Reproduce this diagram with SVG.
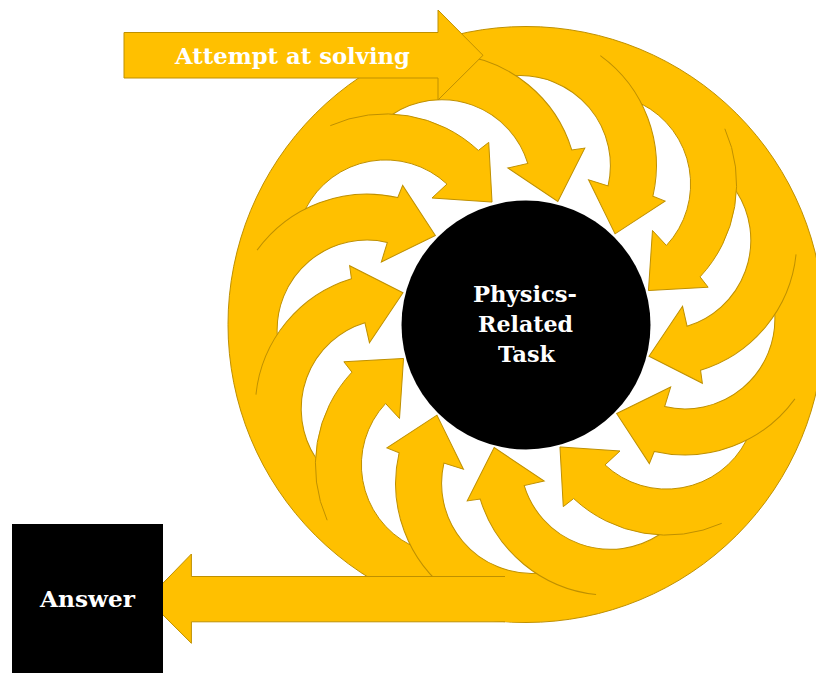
<svg xmlns="http://www.w3.org/2000/svg" width="816" height="673" viewBox="0 0 816 673">
<style>
.y{fill:#FFC000;stroke:none}
.e{fill:none;stroke:#BF9000;stroke-width:1;stroke-linejoin:miter}
.t{font-family:"DejaVu Serif","Liberation Serif",serif;font-weight:bold;fill:#FFFFFF;font-size:23px;text-anchor:middle}
</style>
<defs>
<path id="af" d="M 250.61 266.47 A 136 136 0 0 1 478.35 150.44 L 488.73 142.36 L 492.04 202.06 L 431.99 198.01 L 446.98 184.08 A 90 90 0 0 0 296.27 260.87 Z"/>
<path id="af1" d="M 294.6 148.83 A 136 136 0 0 1 478.35 150.44 L 488.73 142.36 L 492.04 202.06 L 431.99 198.01 L 446.98 184.08 A 90 90 0 0 0 325.38 183.02 Z"/>
<path id="ae" d="M 330.28 125.66 A 136 136 0 0 1 478.35 150.44 L 488.73 142.36 L 492.04 202.06 L 431.99 198.01 L 446.98 184.08 A 90 90 0 0 0 305.41 209.04"/>
</defs>
<rect width="816" height="673" fill="#FFFFFF"/>
<g id="ring">
<path class="y" fill-rule="evenodd" d="M 228 324.5 A 298 298 0 1 0 824 324.5 A 298 298 0 1 0 228 324.5 Z M 276 324.5 A 250 250 0 1 1 776 324.5 A 250 250 0 1 1 276 324.5 Z"/>
<path class="y" d="M 250.61 266.47 A 136 136 0 0 1 303.75 141.28 L 331.44 178.02 A 90 90 0 0 0 296.27 260.87 Z"/>
<circle class="e" cx="526" cy="324.5" r="298"/>
</g>
<g id="arrow-12" transform="rotate(330 526 324.5)"><use href="#af" class="y"/><use href="#ae" class="e"/></g>
<g id="arrow-11" transform="rotate(300 526 324.5)"><use href="#af" class="y"/><use href="#ae" class="e"/></g>
<g id="arrow-10" transform="rotate(270 526 324.5)"><use href="#af" class="y"/><use href="#ae" class="e"/></g>
<g id="arrow-9" transform="rotate(240 526 324.5)"><use href="#af" class="y"/><use href="#ae" class="e"/></g>
<g id="arrow-8" transform="rotate(210 526 324.5)"><use href="#af" class="y"/><use href="#ae" class="e"/></g>
<g id="arrow-7" transform="rotate(180 526 324.5)"><use href="#af" class="y"/><use href="#ae" class="e"/></g>
<g id="arrow-6" transform="rotate(150 526 324.5)"><use href="#af" class="y"/><use href="#ae" class="e"/></g>
<g id="arrow-5" transform="rotate(120 526 324.5)"><use href="#af" class="y"/><use href="#ae" class="e"/></g>
<g id="arrow-4" transform="rotate(90 526 324.5)"><use href="#af" class="y"/><use href="#ae" class="e"/></g>
<g id="arrow-3" transform="rotate(60 526 324.5)"><use href="#af" class="y"/><use href="#ae" class="e"/></g>
<g id="arrow-2" transform="rotate(30 526 324.5)"><use href="#af" class="y"/><use href="#ae" class="e"/></g>
<g id="arrow-1"><use href="#af1" class="y"/><use href="#ae" class="e"/></g>
<g id="task">
<circle cx="526" cy="325" r="124.5" fill="#000000"/>
<text class="t" x="525" y="301.7" textLength="104" lengthAdjust="spacingAndGlyphs">Physics-</text>
<text class="t" x="525.5" y="331.7" textLength="95" lengthAdjust="spacingAndGlyphs">Related</text>
<text class="t" x="526.5" y="361.7" textLength="57" lengthAdjust="spacingAndGlyphs">Task</text>
</g>
<g id="attempt">
<path d="M 124 32.5 L 438 32.5 L 438 10 L 483 55.3 L 438 100 L 438 78 L 124 78 Z" fill="#FFC000" stroke="#BF9000" stroke-width="1"/>
<text class="t" x="292.5" y="64" textLength="235" lengthAdjust="spacingAndGlyphs">Attempt at solving</text>
</g>
<g id="answer-arrow">
<path class="y" d="M 526 576.5 L 191.4 576.5 L 191.4 554 L 147.3 599.3 L 191.4 643.3 L 191.4 621.8 L 526 621.8 Z"/>
<path class="e" d="M 505 576.5 L 191.4 576.5 L 191.4 554 L 147.3 599.3 L 191.4 643.3 L 191.4 621.8 L 505 621.8"/>
</g>
<g id="answer">
<rect x="12" y="524" width="151" height="149" fill="#000000"/>
<text class="t" x="87.5" y="606.7" textLength="95" lengthAdjust="spacingAndGlyphs">Answer</text>
</g>
</svg>
